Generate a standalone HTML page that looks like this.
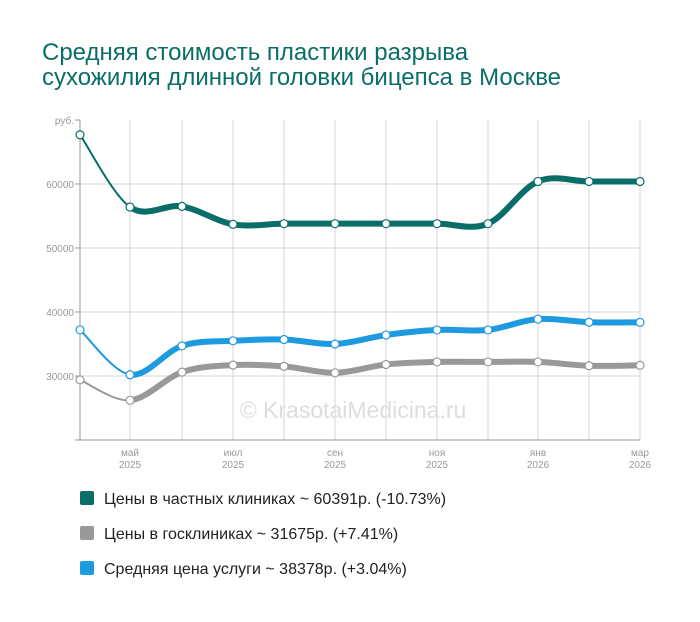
<!DOCTYPE html>
<html><head><meta charset="utf-8"><style>
body{margin:0;background:#fff;width:700px;height:617px;overflow:hidden;font-family:"Liberation Sans",sans-serif}
</style></head><body>
<svg width="700" height="617" xmlns="http://www.w3.org/2000/svg" font-family="Liberation Sans, sans-serif">
<text x="42" y="60" font-size="24" fill="#0a6e68">Средняя стоимость пластики разрыва</text>
<text x="42" y="85" font-size="24" fill="#0a6e68">сухожилия длинной головки бицепса в Москве</text>
<g stroke="#d6d6d6" stroke-width="1">
<line x1="80" y1="184" x2="640" y2="184"/><line x1="80" y1="248" x2="640" y2="248"/>
<line x1="80" y1="312" x2="640" y2="312"/><line x1="80" y1="376" x2="640" y2="376"/>
<g id="vg"></g>
</g>
<line x1="80" y1="120" x2="80" y2="440" stroke="#999"/>
<line x1="75" y1="440" x2="640" y2="440" stroke="#999"/>
<g stroke="#999"><line x1="75" y1="120" x2="80" y2="120"/><line x1="75" y1="184" x2="80" y2="184"/><line x1="75" y1="248" x2="80" y2="248"/><line x1="75" y1="312" x2="80" y2="312"/><line x1="75" y1="376" x2="80" y2="376"/></g>
<g font-size="10" fill="#999" text-anchor="end">
<text x="74" y="124">руб.</text><text x="74" y="188">60000</text><text x="74" y="252">50000</text><text x="74" y="316">40000</text><text x="74" y="380">30000</text>
</g>
<g font-size="10" fill="#999" text-anchor="middle">
<text x="130" y="456">май</text><text x="130" y="468">2025</text>
<text x="233" y="456">июл</text><text x="233" y="468">2025</text>
<text x="335" y="456">сен</text><text x="335" y="468">2025</text>
<text x="437" y="456">ноя</text><text x="437" y="468">2025</text>
<text x="538" y="456">янв</text><text x="538" y="468">2026</text>
<text x="640" y="456">мар</text><text x="640" y="468">2026</text>
</g>
<text x="353" y="418" font-size="23" fill="#ddd" text-anchor="middle">© KrasotaiMedicina.ru</text>
<g id="series"></g>
<rect x="80" y="491" width="14" height="14" fill="#0a6e68" rx="2"/>
<text x="104" y="504" font-size="16" fill="#222">Цены в частных клиниках ~ 60391р. (-10.73%)</text>
<rect x="80" y="526" width="14" height="14" fill="#999" rx="2"/>
<text x="104" y="539" font-size="16" fill="#222">Цены в госклиниках ~ 31675р. (+7.41%)</text>
<rect x="80" y="561" width="14" height="14" fill="#1e9be0" rx="2"/>
<text x="104" y="574" font-size="16" fill="#222">Средняя цена услуги ~ 38378р. (+3.04%)</text>
</svg>
<script>
var xs=[80,130,182,233,284,335,386,437,488,538,589,640];
var vg=document.getElementById('vg'),ns='http://www.w3.org/2000/svg';
for(var i=1;i<xs.length;i++){var l=document.createElementNS(ns,'line');l.setAttribute('x1',xs[i]);l.setAttribute('x2',xs[i]);l.setAttribute('y1',120);l.setAttribute('y2',440);vg.appendChild(l);}
function Y(v){return 184+(60000-v)*0.0064;}
var S=[
["#999",[29400,26200,30600,31700,31500,30500,31800,32200,32200,32200,31600,31675]],
["#1e9be0",[37200,30200,34700,35500,35700,35000,36400,37200,37200,38900,38400,38378]],
["#0a6e68",[67700,56400,56500,53700,53800,53800,53800,53800,53800,60400,60400,60391]]];
var g=document.getElementById('series');
S.forEach(function(s){
 var p=s[1].map(function(v,i){return [xs[i],Y(v)];});
 for(var i=0;i<p.length-1;i++){
  var p0=p[Math.max(0,i-1)],p1=p[i],p2=p[i+1],p3=p[Math.min(p.length-1,i+2)];
  var t=0.5/3;
  var c1=[p1[0]+(p2[0]-p0[0])*t,p1[1]+(p2[1]-p0[1])*t],c2=[p2[0]-(p3[0]-p1[0])*t,p2[1]-(p3[1]-p1[1])*t];
  var e=document.createElementNS(ns,'path');
  e.setAttribute('d','M'+p1+' C'+c1+' '+c2+' '+p2);
  e.setAttribute('fill','none');e.setAttribute('stroke',s[0]);e.setAttribute('stroke-width',i==0?2:6);
  g.appendChild(e);
 }
 p.forEach(function(q){var c=document.createElementNS(ns,'circle');c.setAttribute('cx',q[0]);c.setAttribute('cy',q[1]);c.setAttribute('r',4);c.setAttribute('fill','#fff');c.setAttribute('stroke',s[0]);c.setAttribute('stroke-width',1.2);g.appendChild(c);});
});
</script>
</body></html>
